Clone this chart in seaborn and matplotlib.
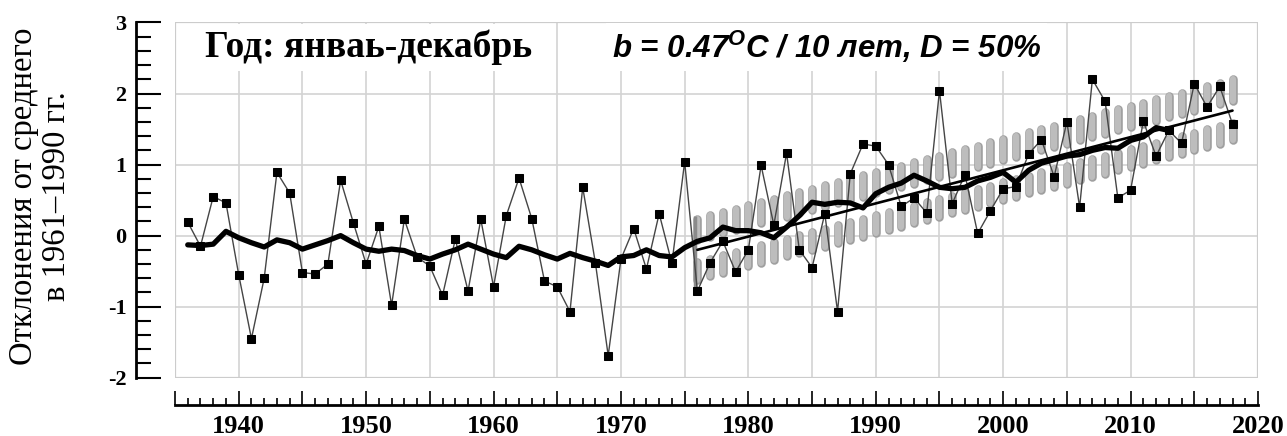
import numpy as np
import matplotlib
matplotlib.use("Agg")
import matplotlib.pyplot as plt
from matplotlib.ticker import MultipleLocator, FuncFormatter
from matplotlib.patches import Rectangle
import seaborn as sns

# ---------------- data ----------------
years = list(range(1936, 2019))
anomaly = [0.19, -0.15, 0.55, 0.46, -0.55, -1.45, -0.60, 0.89, 0.60, -0.52,
           -0.54, -0.40, 0.78, 0.18, -0.40, 0.13, -0.98, 0.23, -0.30, -0.43,
           -0.84, -0.05, -0.78, 0.23, -0.72, 0.28, 0.81, 0.24, -0.64, -0.72,
           -1.07, 0.68, -0.39, -1.69, -0.33, 0.10, -0.47, 0.31, -0.39, 1.04,
           -0.78, -0.38, -0.08, -0.51, -0.20, 0.99, 0.15, 1.16, -0.20, -0.45,
           0.31, -1.07, 0.87, 1.29, 1.26, 1.00, 0.41, 0.53, 0.32, 2.04,
           0.45, 0.86, 0.03, 0.35, 0.66, 0.69, 1.15, 1.35, 0.83, 1.60,
           0.40, 2.20, 1.89, 0.53, 0.64, 1.61, 1.12, 1.48, 1.30, 2.14,
           1.81, 2.10, 1.57]

smooth_years = list(range(1936, 2014))
smooth = [-0.13, -0.14, -0.12, 0.06, -0.03, -0.10, -0.16, -0.06, -0.10, -0.19,
          -0.13, -0.07, 0.00, -0.10, -0.19, -0.22, -0.19, -0.21, -0.28, -0.33,
          -0.26, -0.20, -0.12, -0.19, -0.26, -0.31, -0.15, -0.20, -0.27, -0.33,
          -0.25, -0.31, -0.36, -0.42, -0.30, -0.28, -0.20, -0.28, -0.30, -0.17,
          -0.08, -0.03, 0.12, 0.07, 0.07, 0.04, -0.03, 0.12, 0.28, 0.47,
          0.44, 0.47, 0.46, 0.39, 0.59, 0.68, 0.74, 0.85, 0.77, 0.68,
          0.66, 0.68, 0.77, 0.82, 0.89, 0.75, 0.92, 1.02, 1.07, 1.12,
          1.14, 1.20, 1.24, 1.23, 1.34, 1.39, 1.52, 1.48]

trend_years = [1976, 2018]
trend_vals = [-0.20, 1.76]

band_years = list(range(1976, 2019))
# offsets of the grey band segments from the trend line
upper_seg = [0.14, 0.44]
lower_seg = [-0.42, -0.17]
band_edge = [-0.55, 0.48]   # dark bar at band start

title_left = "Год: янваь-декабрь"
title_right = "b = 0.47$^{\\mathsf{O}}$C / 10 лет, D = 50%"
ylabel = "Отклонения от среднего\nв 1961\u20131990 гг."

# ---------------- style ----------------
sns.set_theme(style="white")
plt.rcParams["font.family"] = ["Liberation Serif", "DejaVu Serif"]
plt.rcParams["mathtext.fontset"] = "custom"
plt.rcParams["mathtext.sf"] = "Liberation Sans:bold:italic"

W, H = 1287, 436
fig = plt.figure(figsize=(W / 100, H / 100), dpi=100)
left, right, top, bottom = 175, 1258, 22.5, 377.7
ax = fig.add_axes([left / W, 1 - bottom / H, (right - left) / W, (bottom - top) / H])
ax.set_xlim(1935, 2020)
ax.set_ylim(-2, 3)

# grey band
trend_at = np.interp(band_years, trend_years, trend_vals)
for lo, hi in [upper_seg, lower_seg]:
    lc = ax.vlines(band_years, trend_at + lo, trend_at + hi, colors="#a0a0a0",
                   lw=6.2, zorder=2)
    lc.set_capstyle("round")
    lc2 = ax.vlines(band_years, trend_at + lo, trend_at + hi, colors="#bdbdbd",
                    lw=4.4, zorder=2.1)
    lc2.set_capstyle("round")
ax.vlines([band_years[0] - 0.15], trend_at[0] + band_edge[0], trend_at[0] + band_edge[1],
          colors="#8a8a8a", lw=2.5, zorder=2.2)

# series
sns.lineplot(x=years, y=anomaly, ax=ax, color="#454545", lw=1.0, zorder=3,
             marker="s", markersize=6.2, markerfacecolor="black",
             markeredgecolor="black")
sns.lineplot(x=smooth_years, y=smooth, ax=ax, color="black", lw=3.8, zorder=4)
sns.lineplot(x=trend_years, y=trend_vals, ax=ax, color="black", lw=1.9, zorder=4)

# grid + frame
ax.set_axisbelow(True)
ax.grid(True, which="major", color="#d3d3d3", lw=1.2)
ax.add_patch(Rectangle((0, 0), 1, 1, transform=ax.transAxes, fill=False,
                       edgecolor="#cccccc", lw=1.6, zorder=1))

# spines
for s in ["top", "right"]:
    ax.spines[s].set_visible(False)
ax.spines["left"].set_position(("outward", 28))
ax.spines["bottom"].set_position(("outward", 20))
for s in ["left", "bottom"]:
    ax.spines[s].set_color("black")
    ax.spines[s].set_linewidth(2.0)

ax.yaxis.set_major_locator(MultipleLocator(1))
ax.yaxis.set_minor_locator(MultipleLocator(0.2))
ax.xaxis.set_major_locator(MultipleLocator(5))
ax.xaxis.set_minor_locator(MultipleLocator(1))
ax.xaxis.set_major_formatter(FuncFormatter(lambda v, p: f"{int(round(v))}" if int(round(v)) % 10 == 0 else ""))
ax.yaxis.set_major_formatter(FuncFormatter(lambda v, p: f"{int(round(v))}"))

ax.tick_params(axis="y", which="major", direction="in", length=18, width=1.5,
               color="black", pad=7, left=True)
ax.tick_params(axis="y", which="minor", direction="in", length=11, width=1.5,
               color="black", left=True)
ax.tick_params(axis="x", which="major", direction="in", length=10, width=1.2,
               color="black", pad=7, bottom=True)
ax.tick_params(axis="x", which="minor", direction="in", length=5, width=1.2,
               color="black", bottom=True)
for lab in ax.get_yticklabels():
    lab.set_fontweight("bold"); lab.set_fontsize(16); lab.set_color("black")
for lab in ax.get_xticklabels():
    lab.set_fontweight("bold"); lab.set_fontsize(19); lab.set_color("black")
ax.set_xlabel(""); ax.set_ylabel("")

# texts
ax.text((205 - left) / (right - left), (bottom - 57) / (bottom - top), title_left,
        transform=ax.transAxes, ha="left", va="baseline", fontsize=27,
        fontweight="bold", family=["Liberation Serif"], color="black", zorder=5,
        bbox=dict(facecolor="white", edgecolor="none", pad=4))
ax.text((612 - left) / (right - left), (bottom - 58) / (bottom - top), title_right,
        transform=ax.transAxes, ha="left", va="baseline", fontsize=22.5,
        fontweight="bold", fontstyle="italic", family=["Liberation Sans"],
        color="black", zorder=5,
        bbox=dict(facecolor="white", edgecolor="none", pad=4))

fig.text(40 / W, 1 - 196 / H, ylabel, rotation=90, ha="center", va="center",
         multialignment="center", fontsize=23.5, linespacing=1.1, color="black",
         family=["Liberation Serif"])

fig.savefig("out.png", dpi=100, facecolor="white")
